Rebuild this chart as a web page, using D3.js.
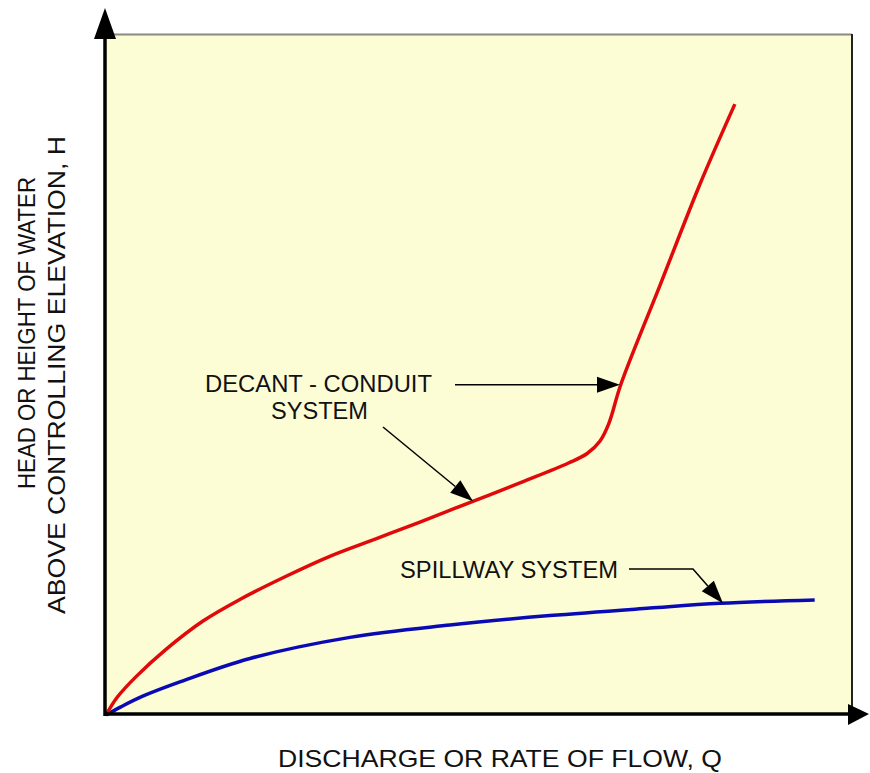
<!DOCTYPE html>
<html>
<head>
<meta charset="utf-8">
<script src="https://cdn.jsdelivr.net/npm/d3@7"></script>
<style>
  html, body { margin: 0; padding: 0; background: #ffffff; }
  svg { display: block; }
  text { font-family: "Liberation Sans", Arial, sans-serif; fill: #111; }
</style>
</head>
<body>
<svg id="chart" width="870" height="773"></svg>
<script>
// Rating curves: discharge Q (relative units) vs head H (relative units)
const qDecant = [0, 1.5, 4.0, 8.0, 13.0, 18.0, 24.0, 30.0, 36.0, 42.0, 49.0, 56.0, 62.0, 64.5, 66.2, 67.4, 69.0, 74.3, 79.6, 84.3];
const hDecant = [0, 2.6, 5.6, 9.6, 13.8, 17.0, 20.3, 23.3, 25.8, 28.3, 31.3, 34.3, 37.0, 38.4, 40.2, 42.8, 48.5, 63.2, 77.9, 89.7];

const qSpill = [0, 2.0, 5.0, 10.0, 19.3, 32.7, 46.1, 59.5, 72.9, 82.3, 95.0];
const hSpill = [0, 1.2, 2.8, 4.9, 8.3, 11.4, 13.2, 14.6, 15.7, 16.4, 16.9];

// Points on each curve that the callouts point at
const decantCallout1 = [68.9, 48.5];
const decantCallout2 = [49.2, 31.4];
const spillCallout = [82.7, 16.4];

const labelDecant = ["DECANT - CONDUIT", "SYSTEM"];
const labelSpill = "SPILLWAY SYSTEM";
const xTitle = "DISCHARGE OR RATE OF FLOW, Q";
const yTitle = ["HEAD OR HEIGHT OF WATER", "ABOVE CONTROLLING ELEVATION, H"];

const svg = d3.select("#chart");
const plot = { left: 106, top: 34, right: 852, bottom: 715 };

const x = d3.scaleLinear().domain([0, 100]).range([plot.left, plot.right]);
const y = d3.scaleLinear().domain([0, 100]).range([plot.bottom, plot.top]);

// Plot background
svg.append("rect")
  .attr("x", plot.left).attr("y", plot.top)
  .attr("width", plot.right - plot.left).attr("height", plot.bottom - plot.top)
  .attr("fill", "#fcfdd5");
svg.append("line")
  .attr("x1", plot.left).attr("x2", plot.right)
  .attr("y1", plot.top + 0.5).attr("y2", plot.top + 0.5)
  .attr("stroke", "#8a8a80").attr("stroke-width", 2);
svg.append("line")
  .attr("x1", plot.right).attr("x2", plot.right)
  .attr("y1", plot.top).attr("y2", plot.bottom)
  .attr("stroke", "#222").attr("stroke-width", 2);

// Curves
const line = d3.line().x(d => x(d[0])).y(d => y(d[1])).curve(d3.curveCatmullRom.alpha(0.5));
svg.append("path")
  .datum(d3.zip(qSpill, hSpill))
  .attr("d", line)
  .attr("fill", "none").attr("stroke", "#0a0ab4").attr("stroke-width", 3.5)
  .attr("stroke-linejoin", "round");
svg.append("path")
  .datum(d3.zip(qDecant, hDecant))
  .attr("d", line)
  .attr("fill", "none").attr("stroke", "#e00a0a").attr("stroke-width", 3.5)
  .attr("stroke-linejoin", "round");

// Axes with arrowheads
svg.append("line")
  .attr("x1", plot.left - 1).attr("x2", plot.left - 1)
  .attr("y1", plot.bottom + 1).attr("y2", 30)
  .attr("stroke", "#000").attr("stroke-width", 3.5);
svg.append("line")
  .attr("x1", plot.left - 2).attr("x2", 852)
  .attr("y1", plot.bottom - 1).attr("y2", plot.bottom - 1)
  .attr("stroke", "#000").attr("stroke-width", 3.5);
svg.append("path")
  .attr("d", `M${plot.left - 1},8 L${plot.left + 10},39 L${plot.left - 12},39 Z`)
  .attr("fill", "#000");
svg.append("path")
  .attr("d", `M869,${plot.bottom - 1} L848,${plot.bottom - 11} L848,${plot.bottom + 10} Z`)
  .attr("fill", "#000");

// Callout arrows
function arrowHead(tx, ty, fx, fy, len, half) {
  const a = Math.atan2(ty - fy, tx - fx);
  const bx = tx - len * Math.cos(a), by = ty - len * Math.sin(a);
  const px = -Math.sin(a) * half, py = Math.cos(a) * half;
  svg.append("path")
    .attr("d", `M${tx},${ty} L${bx + px},${by + py} L${bx - px},${by - py} Z`)
    .attr("fill", "#000");
  return [bx, by];
}
function callout(points) {
  const n = points.length;
  const tip = points[n - 1], prev = points[n - 2];
  const base = arrowHead(tip[0], tip[1], prev[0], prev[1], 23, 8);
  const pts = points.slice(0, n - 1).concat([base]);
  svg.append("path")
    .attr("d", d3.line()(pts))
    .attr("fill", "none").attr("stroke", "#000").attr("stroke-width", 1.5);
}

const t1 = [x(decantCallout1[0]), y(decantCallout1[1])];
callout([[455, t1[1]], t1]);
const t2 = [x(decantCallout2[0]), y(decantCallout2[1])];
callout([[383, 427], t2]);
const t3 = [x(spillCallout[0]), y(spillCallout[1])];
callout([[629, 569], [693, 569], t3]);

// Labels
const fs = 24;
function label(tx, ty, str, len, rotate) {
  svg.append("text")
    .attr("transform", `translate(${tx},${ty})` + (rotate ? " rotate(-90)" : ""))
    .attr("text-anchor", "middle").attr("font-size", fs)
    .attr("textLength", len).attr("lengthAdjust", "spacingAndGlyphs")
    .text(str);
}
label(318.5, 392, labelDecant[0], 227);
label(319.5, 419, labelDecant[1], 97);
label(509, 578, labelSpill, 218);
label(500, 767, xTitle, 444);
label(35, 333, yTitle[0], 312, true);
label(65, 375, yTitle[1], 478, true);
</script>
</body>
</html>
